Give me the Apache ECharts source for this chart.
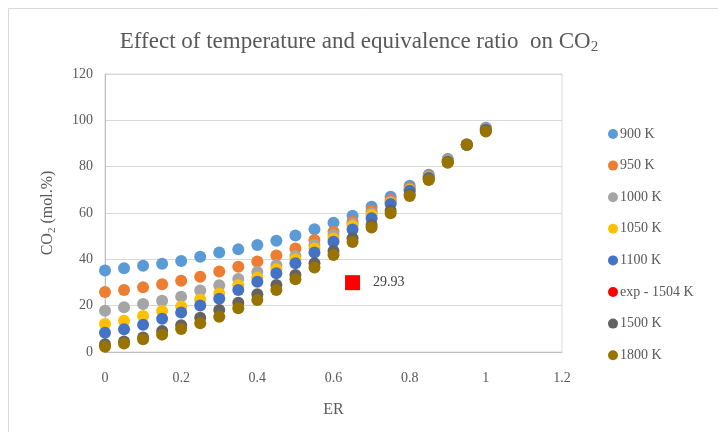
<!DOCTYPE html>
<html>
<head>
<meta charset="utf-8">
<script src="https://cdn.jsdelivr.net/npm/echarts@6/dist/echarts.min.js"></script>
<style>
  html, body { margin: 0; padding: 0; background: #fff; }
  #chart { width: 718px; height: 432px; }
</style>
</head>
<body>
<div id="chart"></div>
<script>
const er = [0, 0.05, 0.1, 0.15, 0.2, 0.25, 0.3, 0.35, 0.4, 0.45, 0.5, 0.55, 0.6, 0.65, 0.7, 0.75, 0.8, 0.85, 0.9, 0.95, 1]
const co2_900 = [35.2, 36.2, 37.2, 38.1, 39.3, 41.1, 42.9, 44.3, 46.2, 48.0, 50.3, 53.0, 55.8, 58.8, 62.7, 67.0, 71.8, 76.5, 83.3, 89.7, 96.8]
const co2_950 = [25.9, 26.8, 27.9, 29.2, 30.8, 32.5, 34.7, 36.8, 39.1, 41.7, 44.7, 48.3, 51.9, 56.2, 61.0, 65.6, 70.8, 76.0, 82.8, 89.6, 96.5]
const co2_1000 = [17.8, 19.3, 20.7, 22.1, 23.9, 26.5, 28.8, 31.5, 34.5, 37.5, 41.4, 46.2, 50.5, 55.2, 59.9, 64.8, 70.2, 75.6, 82.6, 89.5, 96.3]
const co2_1050 = [12.1, 13.5, 15.5, 17.7, 19.6, 22.7, 25.3, 28.8, 32.1, 35.7, 40.0, 44.7, 49.0, 54.4, 59.1, 64.4, 70.0, 75.4, 82.4, 89.5, 96.2]
const co2_1100 = [8.3, 9.8, 11.8, 14.4, 17.0, 20.1, 23.0, 26.8, 30.3, 34.0, 38.3, 42.9, 47.6, 52.9, 57.7, 63.9, 69.6, 75.2, 82.2, 89.4, 96.0]
const co2_1500 = [3.3, 4.5, 6.3, 9.1, 11.6, 14.8, 18.1, 21.3, 24.9, 28.9, 33.2, 38.3, 43.6, 49.1, 54.8, 61.0, 68.0, 74.6, 81.9, 89.5, 95.6]
const co2_1800 = [2.3, 3.7, 5.5, 7.5, 9.9, 12.4, 15.2, 18.9, 22.4, 26.8, 31.4, 36.5, 41.9, 47.5, 53.7, 59.9, 67.3, 74.2, 81.7, 89.5, 95.2]
const expPoint = [0.65, 29.93]
const names = ['900 K', '950 K', '1000 K', '1050 K', '1100 K', 'exp - 1504 K', '1500 K', '1800 K']
const colors = ['#5b9bd5', '#ed7d31', '#a5a5a5', '#ffc000', '#4472c4', '#ff0000', '#636363', '#997300']

const font = 'Liberation Serif'
const textColor = '#595959'

function pairs (ys) {
  return er.map((x, i) => [x, ys[i]])
}

const sim = [co2_900, co2_950, co2_1000, co2_1050, co2_1100, null, co2_1500, co2_1800]

const series = sim.map((ys, i) => {
  if (ys === null) {
    // experimental point, drawn as a square with its value
    return {
      name: names[i],
      type: 'scatter',
      symbol: 'rect',
      symbolSize: 15,
      itemStyle: { color: colors[i], opacity: 1 },
      label: {
        show: true,
        position: 'right',
        distance: 13,
        formatter: p => p.value[1].toFixed(2),
        fontFamily: font,
        fontSize: 14,
        color: '#404040'
      },
      data: [expPoint]
    }
  }
  return {
    name: names[i],
    type: 'scatter',
    symbol: 'circle',
    symbolSize: 12,
    itemStyle: { color: colors[i], opacity: 1 },
    data: pairs(ys)
  }
})

const chart = echarts.init(document.getElementById('chart'))
chart.setOption({
  color: colors,
  animation: false,
  graphic: [{
    type: 'rect',
    shape: { x: 8.5, y: 8.5, width: 720, height: 440 },
    style: { fill: 'none', stroke: '#d9d9d9', lineWidth: 1 }
  }],
  title: {
    left: 'center',
    top: 23,
    text: '{a|Effect of temperature and equivalence ratio  on CO}{s|2}',
    textStyle: {
      fontWeight: 'normal',
      rich: {
        a: { fontFamily: font, fontSize: 23, fontWeight: 'normal', color: textColor, lineHeight: 27 },
        s: { fontFamily: font, fontSize: 15, fontWeight: 'normal', color: textColor, lineHeight: 15, verticalAlign: 'bottom' }
      }
    }
  },
  legend: {
    orient: 'vertical',
    left: 603,
    top: 122,
    itemWidth: 10,
    itemHeight: 10,
    itemGap: 17.6,
    icon: 'circle',
    textStyle: { fontFamily: font, fontSize: 14, color: textColor, padding: [0, 0, 0, -3] },
    data: names
  },
  grid: {
    left: 105,
    right: 156,
    top: 74,
    bottom: 80,
    show: true,
    borderColor: '#d9d9d9',
    borderWidth: 1
  },
  xAxis: {
    type: 'value',
    min: 0,
    max: 1.2,
    interval: 0.2,
    name: 'ER',
    nameLocation: 'middle',
    nameGap: 50,
    nameTextStyle: { fontFamily: font, fontSize: 16, color: textColor },
    axisLine: { show: true, lineStyle: { color: '#bfbfbf' } },
    axisTick: { show: false },
    splitLine: { show: false },
    axisLabel: {
      fontFamily: font,
      fontSize: 14,
      color: textColor,
      margin: 19,
      formatter: v => String(+v.toFixed(1))
    }
  },
  yAxis: {
    type: 'value',
    min: 0,
    max: 120,
    interval: 20,
    name: '{a|CO}{s|2}{a| (mol.%)}',
    nameLocation: 'middle',
    nameGap: 47,
    nameTextStyle: {
      rich: {
        a: { fontFamily: font, fontSize: 16, color: textColor, lineHeight: 20 },
        s: { fontFamily: font, fontSize: 11, color: textColor, lineHeight: 11, verticalAlign: 'bottom' }
      }
    },
    axisLine: { show: true, lineStyle: { color: '#bfbfbf' } },
    axisTick: { show: false },
    splitLine: { show: true, lineStyle: { color: '#d9d9d9' } },
    axisLabel: { fontFamily: font, fontSize: 14, color: textColor, margin: 12 }
  },
  series: series
})
</script>
</body>
</html>
